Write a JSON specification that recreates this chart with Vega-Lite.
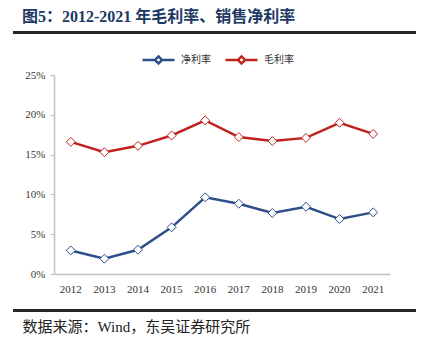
{
  "$schema": "https://vega.github.io/schema/vega-lite/v6.json",
  "width": 403,
  "height": 199,
  "autosize": {"type": "none"},
  "padding": {"left": 13, "top": 75, "right": 6, "bottom": 76},
  "background": "white",
  "title": {
    "text": "图5：2012-2021 年毛利率、销售净利率",
    "anchor": "start",
    "frame": "group",
    "font": "Liberation Serif, Noto Sans CJK SC",
    "fontSize": 16,
    "fontWeight": "bold",
    "color": "#203864",
    "dx": 9,
    "offset": 7
  },
  "config": {
    "view": {"stroke": null},
    "font": "Liberation Serif, Noto Sans CJK SC",
    "axisX": {
      "ticks": false,
      "domainColor": "#BFBFBF",
      "domainWidth": 1.5,
      "labelPadding": 9,
      "labelFont": "Liberation Serif",
      "labelFontSize": 11,
      "labelColor": "#333333",
      "labelAngle": 0,
      "grid": false
    }
  },
  "data": {
    "values": [
      {"year": "2012", "series": "净利率", "value": 0.0296},
      {"year": "2013", "series": "净利率", "value": 0.0192},
      {"year": "2014", "series": "净利率", "value": 0.0305},
      {"year": "2015", "series": "净利率", "value": 0.0586},
      {"year": "2016", "series": "净利率", "value": 0.0963},
      {"year": "2017", "series": "净利率", "value": 0.0883},
      {"year": "2018", "series": "净利率", "value": 0.0766},
      {"year": "2019", "series": "净利率", "value": 0.0845},
      {"year": "2020", "series": "净利率", "value": 0.0690},
      {"year": "2021", "series": "净利率", "value": 0.0774},
      {"year": "2012", "series": "毛利率", "value": 0.166},
      {"year": "2013", "series": "毛利率", "value": 0.153},
      {"year": "2014", "series": "毛利率", "value": 0.161},
      {"year": "2015", "series": "毛利率", "value": 0.174},
      {"year": "2016", "series": "毛利率", "value": 0.193},
      {"year": "2017", "series": "毛利率", "value": 0.172},
      {"year": "2018", "series": "毛利率", "value": 0.167},
      {"year": "2019", "series": "毛利率", "value": 0.171},
      {"year": "2020", "series": "毛利率", "value": 0.190},
      {"year": "2021", "series": "毛利率", "value": 0.176}
    ]
  },
  "encoding": {
    "y": {
      "field": "value",
      "type": "quantitative",
      "scale": {"domain": [0, 0.25], "nice": false, "zero": false},
      "axis": {
        "title": null,
        "format": ".0%",
        "values": [0, 0.05, 0.1, 0.15, 0.2, 0.25],
        "labelOverlap": false,
        "offset": -41,
        "domainColor": "#BFBFBF",
        "domainWidth": 1.5,
        "tickColor": "#BFBFBF",
        "tickSize": 4,
        "labelPadding": 5,
        "labelFont": "Liberation Serif",
        "labelFontSize": 11,
        "labelFontWeight": "normal",
        "labelColor": "#333333",
        "grid": false
      }
    }
  },
  "layer": [
    {
      "mark": {"type": "line", "strokeWidth": 2.5},
      "encoding": {
        "x": {
          "field": "year",
          "type": "ordinal",
          "scale": {"type": "band", "range": [41, 377], "paddingInner": 0, "paddingOuter": 0},
          "axis": {
            "title": "数据来源：Wind，东吴证券研究所",
            "titleFont": "Liberation Serif, Noto Sans CJK SC",
            "titleFontSize": 15,
            "titleFontWeight": "normal",
            "titleColor": "#222222",
            "titleAlign": "left",
            "titleX": 9,
            "titlePadding": 25
          }
        },
        "color": {
          "field": "series",
          "type": "nominal",
          "scale": {"domain": ["净利率", "毛利率"], "range": ["#2F4F8A", "#C0231E"]},
          "legend": {
            "orient": "none",
            "legendX": 128,
            "legendY": -33,
            "direction": "horizontal",
            "title": null,
            "symbolType": "M-1,0L-0.22,0M0.22,0L1,0M0,-0.22L0.22,0L0,0.22L-0.22,0Z",
            "symbolSize": 1024,
            "labelFont": "Noto Sans CJK SC",
            "labelFontSize": 10,
            "labelColor": "#333333",
            "labelOffset": 5,
            "columnPadding": 9,
            "encode": {"symbols": {"update": {"fill": {"value": "white"}, "strokeWidth": {"value": 2.5}}}}
          }
        }
      }
    },
    {
      "mark": {"type": "point", "shape": "diamond", "filled": false, "fill": "white", "size": 80, "strokeWidth": 1, "opacity": 1},
      "encoding": {
        "x": {"field": "year", "type": "ordinal"},
        "color": {"field": "series", "type": "nominal"}
      }
    },
    {
      "mark": {"type": "rule", "color": "#262626", "strokeWidth": 2},
      "encoding": {"y": {"datum": 0.303, "type": "quantitative"}}
    },
    {
      "mark": {"type": "rule", "color": "#262626", "strokeWidth": 2},
      "encoding": {"y": {"datum": -0.046, "type": "quantitative"}}
    }
  ]
}
